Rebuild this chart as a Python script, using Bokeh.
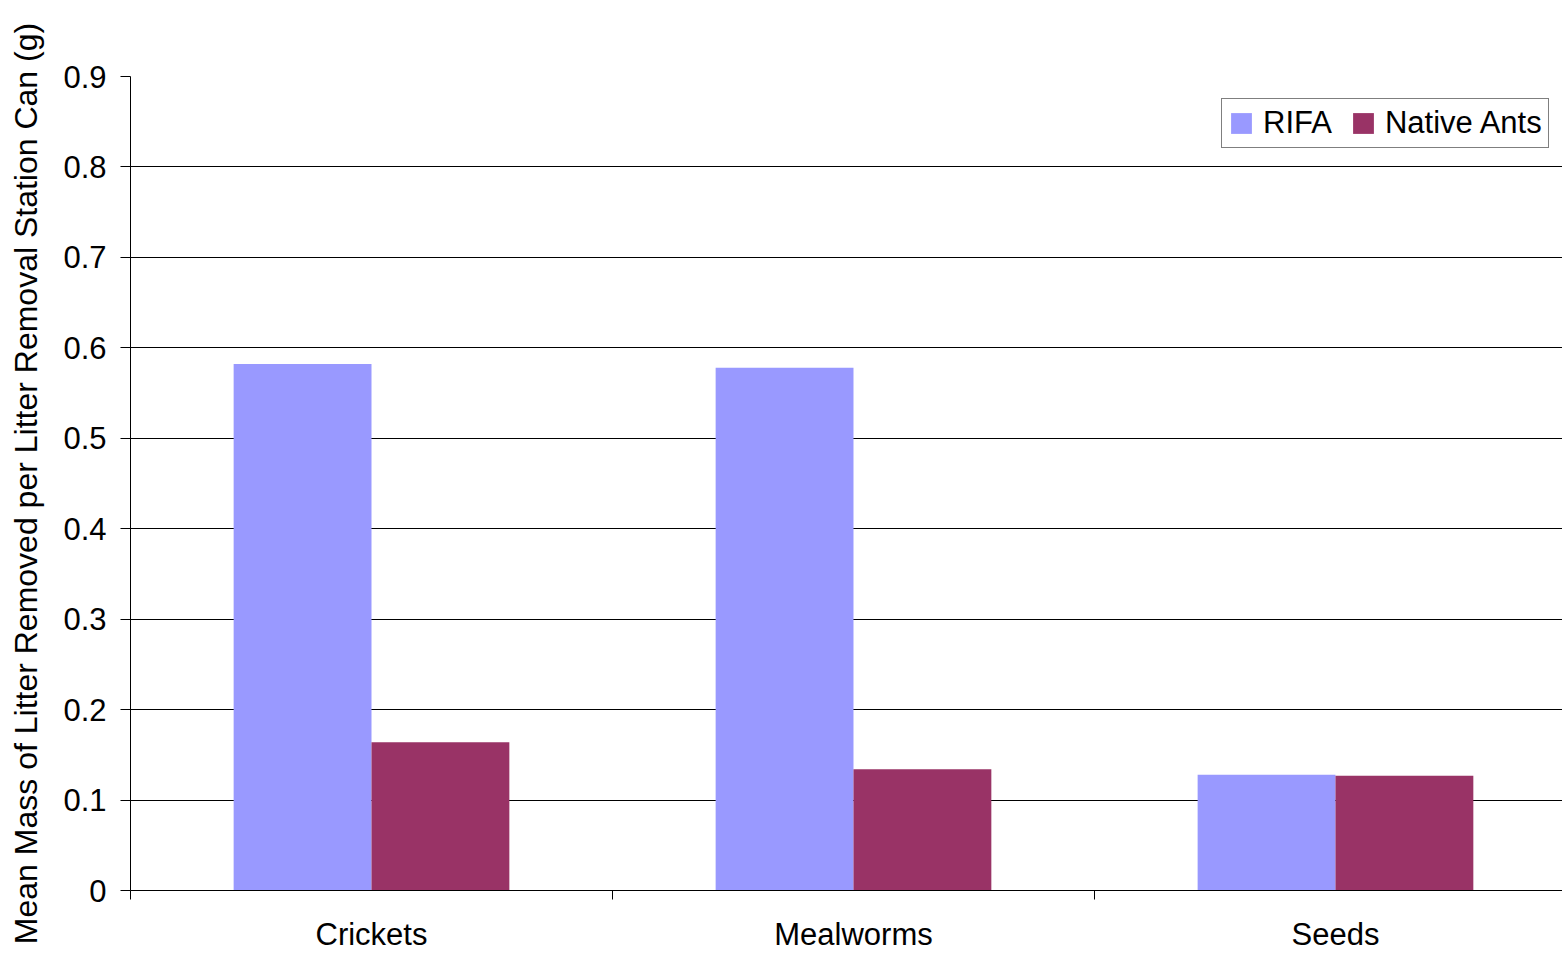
from bokeh.plotting import figure
from bokeh.models import (ColumnDataSource, FixedTicker, Legend, LegendItem,
                          Range1d, NumeralTickFormatter)
from bokeh.embed import file_html
from bokeh.resources import INLINE

categories = ["Crickets", "Mealworms", "Seeds"]
rifa = [0.582, 0.578, 0.128]
native_ants = [0.164, 0.134, 0.127]
y_ticks = [0, 0.1, 0.2, 0.3, 0.4, 0.5, 0.6, 0.7, 0.8, 0.9]
series_names = ["RIFA", "Native Ants"]
colors = ["#9999FF", "#993366"]

FONT = "Liberation Sans"
FS = "31px"

centers = [i + 0.5 for i in range(len(categories))]
boundaries = [float(i) for i in range(len(categories) + 1)]
bar_w = 0.286

src = ColumnDataSource(dict(
    x_rifa=[c - bar_w / 2 for c in centers],
    x_nat=[c + bar_w / 2 for c in centers],
    rifa=rifa,
    native=native_ants,
))

p = figure(width=1562, height=954, output_backend="svg", toolbar_location=None,
           x_range=Range1d(0, 2.971), y_range=Range1d(0, 0.9),
           min_border_left=130, min_border_right=0, min_border_top=76,
           min_border_bottom=64, background_fill_color="white",
           border_fill_color="white")
p.outline_line_color = None

r1 = p.vbar(x="x_rifa", top="rifa", width=bar_w, bottom=0, source=src,
            fill_color=colors[0], line_color=None)
r2 = p.vbar(x="x_nat", top="native", width=bar_w, bottom=0, source=src,
            fill_color=colors[1], line_color=None)

# x axis
xa = p.xaxis[0]
xa.ticker = FixedTicker(ticks=centers, minor_ticks=boundaries)
xa.major_label_overrides = {c: name for c, name in zip(centers, categories)}
xa.major_tick_line_color = None
xa.major_tick_out = 0
xa.major_tick_in = 0
xa.minor_tick_out = 9
xa.minor_tick_in = 0
xa.minor_tick_line_color = "black"
xa.axis_line_color = "black"
xa.major_label_standoff = 17
xa.major_label_text_font = FONT
xa.major_label_text_font_size = FS
xa.major_label_text_color = "black"

# y axis
ya = p.yaxis[0]
ya.ticker = FixedTicker(ticks=y_ticks)
ya.formatter = NumeralTickFormatter(format="0.[0]")
ya.major_tick_out = 10
ya.major_tick_in = 0
ya.minor_tick_line_color = None
ya.major_tick_line_color = "black"
ya.axis_line_color = "black"
ya.major_label_standoff = 14
ya.major_label_text_font = FONT
ya.major_label_text_font_size = FS
ya.major_label_text_color = "black"
ya.axis_label = "Mean Mass of Litter Removed per Litter Removal Station Can (g)"
ya.axis_label_text_font = FONT
ya.axis_label_text_font_size = "32px"
ya.axis_label_text_font_style = "normal"
ya.axis_label_text_color = "black"
ya.axis_label_standoff = 16

p.xgrid.grid_line_color = None
p.ygrid.grid_line_color = "black"
p.ygrid.grid_line_width = 1

legend = Legend(items=[LegendItem(label=series_names[0], renderers=[r1]),
                       LegendItem(label=series_names[1], renderers=[r2])],
                orientation="horizontal", location=(1091, 742))
legend.label_text_font = FONT
legend.label_text_font_size = FS
legend.label_text_color = "black"
legend.glyph_width = 26
legend.glyph_height = 26
legend.label_standoff = 9
legend.spacing = 18
legend.padding = 6
legend.margin = 0
legend.border_line_color = "black"
legend.border_line_width = 1
legend.background_fill_color = "white"
legend.background_fill_alpha = 1
p.add_layout(legend, "center")

open("out.html", "w").write(file_html(p, INLINE))
